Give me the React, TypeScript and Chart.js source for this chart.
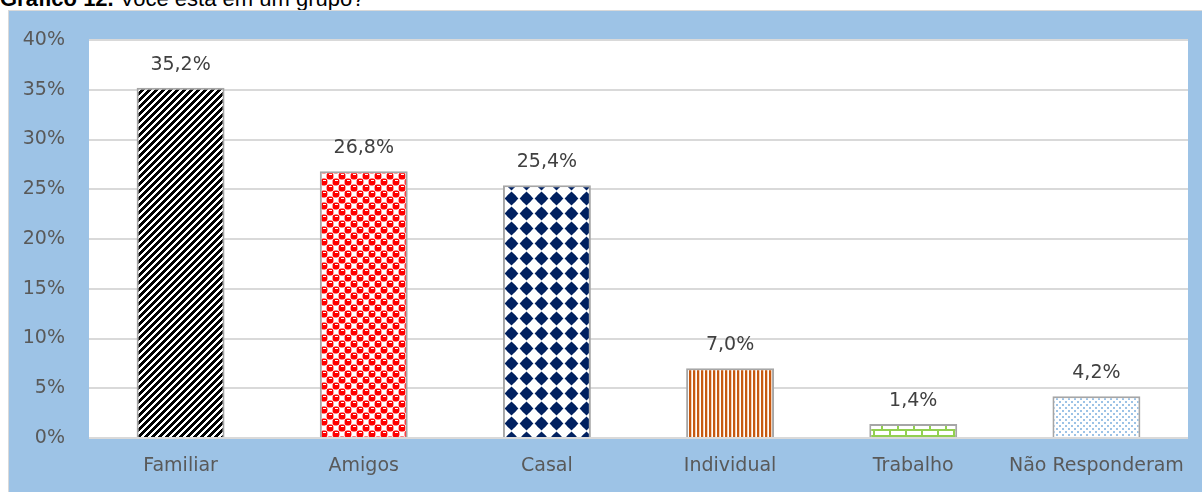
import React, { useEffect, useRef } from "react";
import { Chart, registerables } from "chart.js";

Chart.register(...registerables);

const categories = ["Familiar", "Amigos", "Casal", "Individual", "Trabalho", "Não Responderam"];
const values = [35.2, 26.8, 25.4, 7.0, 1.4, 4.2];
const yMin = 0;
const yMax = 40;
const yStep = 5;

const FONT = '"DejaVu Sans", sans-serif';

function makePattern(w: number, h: number, draw: (g: CanvasRenderingContext2D) => void): CanvasPattern {
  const c = document.createElement("canvas");
  c.width = w;
  c.height = h;
  const g = c.getContext("2d")!;
  draw(g);
  return g.createPattern(c, "repeat")!;
}

function buildPatterns(): CanvasPattern[] {
  // Familiar: black wide upward diagonal
  const familiar = makePattern(7, 7, (g) => {
    g.fillStyle = "#ffffff";
    g.fillRect(0, 0, 7, 7);
    g.fillStyle = "#000000";
    for (let y = 0; y < 7; y++)
      for (let x = 0; x < 7; x++) if ((x + y) % 7 < 4) g.fillRect(x, y, 1, 1);
  });
  // Amigos: red spheres on a checkerboard
  const amigos = makePattern(12, 12, (g) => {
    g.fillStyle = "#ffffff";
    g.fillRect(0, 0, 12, 12);
    g.fillStyle = "#ff0000";
    const blob = (x: number, y: number) => {
      g.beginPath();
      g.roundRect(x - 0.4, y - 0.4, 6.8, 6.8, 2.4);
      g.fill();
    };
    [[0, 0], [6, 6], [-6, 6], [6, -6], [12, 6], [6, 12], [-6, -6], [12, 12], [0, 12], [12, 0], [-6, 12], [12, -6]].forEach(([x, y]) => blob(x, y));
    g.fillStyle = "#ffffff";
    g.fillRect(2, 1, 3, 1);
    g.fillRect(8, 7, 3, 1);
  });
  // Casal: navy diamonds
  const casal = makePattern(15, 15, (g) => {
    g.fillStyle = "#ffffff";
    g.fillRect(0, 0, 15, 15);
    g.fillStyle = "#002060";
    g.beginPath();
    g.moveTo(7.5, 0.6);
    g.lineTo(14.4, 7.5);
    g.lineTo(7.5, 14.4);
    g.lineTo(0.6, 7.5);
    g.closePath();
    g.fill();
    g.beginPath();
    g.arc(7.5, 7.5, 5.0, 0, Math.PI * 2);
    g.fill();
  });
  // Individual: orange vertical stripes
  const individual = makePattern(4, 4, (g) => {
    g.fillStyle = "#ffffff";
    g.fillRect(0, 0, 4, 4);
    g.fillStyle = "#C65911";
    g.fillRect(0, 0, 2, 4);
    g.fillStyle = "#F4D2BA";
    g.fillRect(2, 0, 1, 4);
  });
  // Trabalho: green bricks
  const trabalho = makePattern(16, 12, (g) => {
    g.fillStyle = "#ffffff";
    g.fillRect(0, 0, 16, 12);
    g.fillStyle = "#92D050";
    g.fillRect(0, 4, 16, 2);
    g.fillRect(0, 10, 16, 2);
    g.fillRect(0, 0, 2, 4);
    g.fillRect(8, 6, 2, 4);
  });
  // Não Responderam: light blue dots
  const nao = makePattern(6, 6, (g) => {
    g.fillStyle = "#ffffff";
    g.fillRect(0, 0, 6, 6);
    g.fillStyle = "#9DC3E6";
    g.fillRect(0, 0, 2, 2);
    g.fillRect(3, 3, 2, 2);
  });
  return [familiar, amigos, casal, individual, trabalho, nao];
}

const whiteAreaPlugin = {
  id: "whiteArea",
  beforeDraw(chart: any) {
    const { ctx, chartArea } = chart;
    ctx.save();
    ctx.fillStyle = "#ffffff";
    ctx.fillRect(chartArea.left, chartArea.top, chartArea.right - chartArea.left, chartArea.bottom - chartArea.top);
    ctx.restore();
  },
};

const labelPlugin = {
  id: "barLabels",
  afterDatasetsDraw(chart: any) {
    const ctx = chart.ctx;
    const meta = chart.getDatasetMeta(0);
    const data = chart.data.datasets[0].data as number[];
    ctx.save();
    ctx.font = `19px ${FONT}`;
    ctx.fillStyle = "#404040";
    ctx.textAlign = "center";
    ctx.textBaseline = "alphabetic";
    meta.data.forEach((el: any, i: number) => {
      const txt = data[i].toFixed(1).replace(".", ",") + "%";
      ctx.fillText(txt, el.x, el.y - 18);
    });
    ctx.restore();
  },
};

export default function App() {
  const ref = useRef<HTMLCanvasElement | null>(null);

  useEffect(() => {
    if (!ref.current) return;
    const patterns = buildPatterns();
    const chart = new Chart(ref.current, {
      type: "bar",
      data: {
        labels: categories,
        datasets: [
          {
            data: values,
            backgroundColor: patterns as any,
            borderColor: "#A6A6A6",
            borderWidth: 2,
            barPercentage: 0.48,
            categoryPercentage: 1,
          },
        ],
      },
      options: {
        animation: false,
        responsive: false,
        devicePixelRatio: 1,
        layout: { padding: { top: 29, right: 14, left: 0, bottom: 0 } },
        plugins: {
          legend: { display: false },
          tooltip: { enabled: false },
          title: { display: false },
        },
        scales: {
          x: {
            grid: { display: false, drawTicks: false },
            border: { display: false },
            ticks: { color: "#595959", font: { family: FONT, size: 19 }, padding: 17, maxRotation: 0, autoSkip: false },
            afterFit: (s: any) => {
              s.height = 54;
              s.paddingLeft = 0;
              s.paddingRight = 0;
            },
          },
          y: {
            min: yMin,
            max: yMax,
            grid: { color: "#D9D9D9", lineWidth: 2, drawTicks: false },
            border: { display: false },
            ticks: {
              stepSize: yStep,
              color: "#595959",
              font: { family: FONT, size: 19 },
              padding: 24,
              callback: (v: any) => `${v}%`,
            },
            afterFit: (s: any) => {
              s.width = 80;
              s.paddingTop = 0;
              s.paddingBottom = 0;
            },
          },
        },
      },
      plugins: [whiteAreaPlugin, labelPlugin],
    });
    return () => chart.destroy();
  }, []);

  return (
    <>
      <div
        style={{
          position: "absolute",
          left: 0,
          top: -12,
          font: '22px "Liberation Sans", Arial, sans-serif',
          lineHeight: "22px",
          whiteSpace: "nowrap",
          color: "#000",
        }}
      >
        <b>Gráfico 12.</b> Você está em um grupo?
      </div>
      <div
        style={{
          position: "absolute",
          left: 8,
          top: 10,
          width: 1194,
          height: 482,
          boxSizing: "border-box",
          borderTop: "1px solid #D9D9D9",
          borderLeft: "1px solid #D9D9D9",
          background: "#9DC3E6",
          overflow: "hidden",
        }}
      >
        <canvas ref={ref} width={1193} height={481} style={{ display: "block", width: 1193, height: 481 }} />
      </div>
    </>
  );
}
